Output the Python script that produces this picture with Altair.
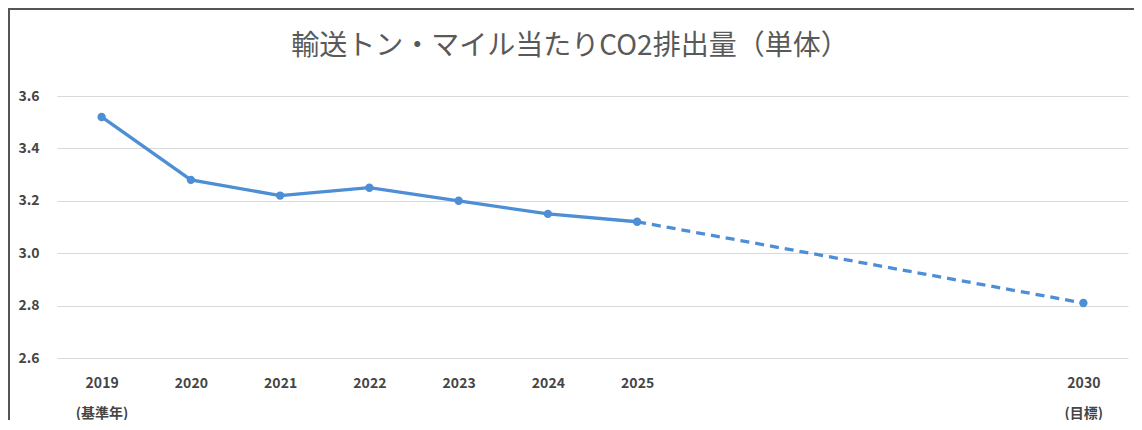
import altair as alt
import pandas as pd

years = [2019, 2020, 2021, 2022, 2023, 2024, 2025, 2030]
values = [3.52, 3.28, 3.22, 3.25, 3.20, 3.15, 3.12, 2.81]
segment = ["実績", "実績", "実績", "実績", "実績", "実績", "実績", "目標"]
y_ticks = [2.6, 2.8, 3.0, 3.2, 3.4, 3.6]
title_text = "輸送トン・マイル当たりCO2排出量（単体）"

df = pd.DataFrame({"year": years, "value": values, "seg": segment})

BLUE = "#4d8ed5"
FONT = "Noto Sans CJK JP"

W, H = 1071, 262

x_enc = alt.X(
    "year:Q",
    scale=alt.Scale(domain=[2018.5, 2030.5], nice=False, zero=False),
    axis=alt.Axis(
        values=years,
        title=None,
        grid=False,
        domain=False,
        ticks=False,
        labelFont=FONT,
        labelFontSize=14,
        labelFontWeight=600,
        labelColor="#454545",
        labelPadding=25,
        labelLineHeight=30,
        labelBaseline="middle",
        labelExpr="datum.value == 2019 ? ['2019', '(基準年)'] : (datum.value == 2030 ? ['2030', '(目標)'] : format(datum.value, 'd'))",
    ),
)
y_enc = alt.Y(
    "value:Q",
    scale=alt.Scale(domain=[2.6, 3.6], nice=False, zero=False),
    axis=alt.Axis(
        values=y_ticks,
        format=".1f",
        title=None,
        domain=False,
        ticks=False,
        gridColor="#d9d9d9",
        gridWidth=1,
        labelFont=FONT,
        labelFontSize=14,
        labelFontWeight=600,
        labelColor="#454545",
        labelPadding=18,
    ),
)

base = alt.Chart(df)

solid = base.transform_filter(alt.datum.year <= 2025).mark_line(
    color=BLUE, strokeWidth=3.3
).encode(x=x_enc, y=y_enc)

dashed = base.transform_filter(alt.datum.year >= 2025).mark_line(
    color=BLUE, strokeWidth=3.3, strokeDash=[9, 6]
).encode(x=x_enc, y=y_enc)

points = base.mark_point(filled=True, color=BLUE, size=70, opacity=1).encode(
    x=x_enc, y=y_enc
)

title = alt.Chart(pd.DataFrame({"t": [title_text]})).mark_text(
    font=FONT, fontSize=28, color="#595959", align="center", baseline="middle"
).encode(text="t:N", x=alt.value(513), y=alt.value(-49))

frame_top = alt.Chart(pd.DataFrame({"a": [0]})).mark_rule(
    color="#555555", strokeWidth=2
).encode(x=alt.value(-49), x2=alt.value(W + 6), y=alt.value(-87))

frame_left = alt.Chart(pd.DataFrame({"a": [0]})).mark_rule(
    color="#555555", strokeWidth=2
).encode(x=alt.value(-48), y=alt.value(-88), y2=alt.value(H + 62))

chart = alt.layer(solid, dashed, points, title, frame_top, frame_left).properties(
    width=W,
    height=H,
    autosize="none",
    padding={"left": 49, "top": 88, "right": 6, "bottom": 62},
).configure(background="white").configure_view(stroke=None)

chart.save("out.html", embed_options={"renderer": "svg", "actions": False})
